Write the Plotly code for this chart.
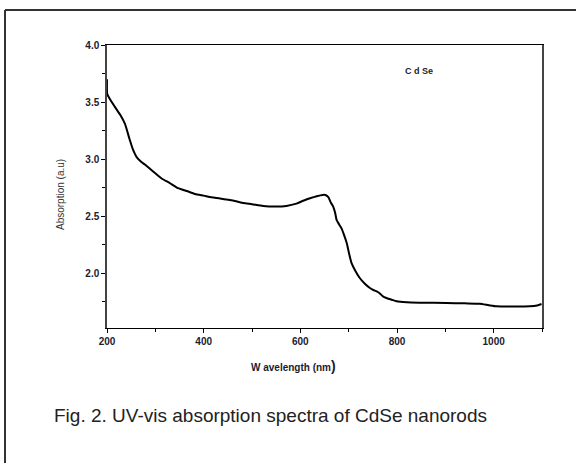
import plotly.graph_objects as go

wavelength = [200, 200.5, 204, 216, 227, 237, 247, 254, 261, 270, 279, 296, 313, 330, 347, 365, 382, 400, 416, 434,
              451, 467, 482, 500, 523, 550, 571, 592, 606, 620, 634, 646, 652, 658, 663, 668, 672, 675, 680,
              685, 690, 696, 701, 706, 714, 723, 733, 744, 751, 758, 764, 771, 778, 789, 799, 820, 850,
              902, 940, 971, 990, 1006, 1040, 1075, 1090, 1099]
absorbance = [3.70, 3.57, 3.54, 3.46, 3.39, 3.31, 3.17, 3.08, 3.02, 2.98, 2.95, 2.89, 2.83, 2.79, 2.745, 2.72, 2.695, 2.68, 2.666, 2.655,
              2.643, 2.63, 2.615, 2.605, 2.59, 2.585, 2.59, 2.61, 2.635, 2.657, 2.675, 2.686, 2.685, 2.666, 2.62, 2.584, 2.53, 2.468, 2.43,
              2.395, 2.34, 2.264, 2.17, 2.089, 2.02, 1.958, 1.91, 1.87, 1.853, 1.841, 1.825, 1.797, 1.783, 1.768, 1.754, 1.745, 1.742,
              1.739, 1.736, 1.733, 1.72, 1.71, 1.708, 1.71, 1.718, 1.73]

x_ticks = [200, 400, 600, 800, 1000]
y_ticks = [2.0, 2.5, 3.0, 3.5, 4.0]

fig = go.Figure()
fig.add_trace(go.Scatter(x=wavelength, y=absorbance, mode="lines",
                         line=dict(color="black", width=2, shape="spline", smoothing=0.6),
                         showlegend=False))

tick_font = dict(family="Liberation Sans, Arial", size=10, color="#1c1c2e", weight="bold")

fig.update_xaxes(range=[200, 1100], tickvals=x_ticks, ticktext=[str(v) for v in x_ticks],
                 ticks="outside", ticklen=4, tickcolor="black", tickwidth=1,
                 minor=dict(tickvals=[300, 500, 700, 900, 1100], ticks="outside", ticklen=3, tickcolor="black"),
                 showline=True, linecolor="black", linewidth=1, mirror=True,
                 showgrid=False, zeroline=False, tickfont=tick_font)
fig.update_yaxes(range=[1.52, 4.0], tickvals=y_ticks, ticktext=["%.1f" % v for v in y_ticks],
                 ticks="outside", ticklen=4, tickcolor="black", tickwidth=1,
                 minor=dict(tickvals=[1.75, 2.25, 2.75, 3.25, 3.75], ticks="outside", ticklen=3, tickcolor="black"),
                 showline=True, linecolor="#444", linewidth=1.5, mirror=True,
                 showgrid=False, zeroline=False, tickfont=tick_font)

W, H = 435.0, 283.0
L, T = 107.0, 45.0
def px(xp):
    return (xp - L) / W
def py(yp):
    return (T + H - yp) / H

fig.add_shape(type="line", xref="paper", yref="paper", x0=px(5), x1=px(580), y0=py(10), y1=py(10),
              line=dict(color="#333", width=2))
fig.add_shape(type="line", xref="paper", yref="paper", x0=px(5), x1=px(5), y0=py(10), y1=py(470),
              line=dict(color="#333", width=2))

def note(x, y, text, font, angle=0):
    fig.add_annotation(x=px(x), y=py(y), xref="paper", yref="paper", text=text, showarrow=False,
                       xanchor="center", yanchor="middle", textangle=angle, font=font)

note(419, 71, "C d Se", dict(family="Liberation Sans, Arial", size=9, color="#1c1c2e", weight="bold"))
note(293, 366, "W avelength (nm<span style='font-size:14px'>)</span>",
     dict(family="Liberation Sans, Arial", size=10, color="#1c1c2e", weight="bold"))
note(60, 195, "Absorption (a.u)", dict(family="Liberation Sans, Arial", size=10, color="#333"), angle=-90)
note(270, 415, "Fig. 2. UV-vis absorption spectra of CdSe nanorods",
     dict(family="Liberation Sans, Arial", size=19, color="#222"))

fig.update_layout(width=576, height=463, margin=dict(l=107, r=34, t=45, b=135),
                  plot_bgcolor="white", paper_bgcolor="white")
fig.write_html("out.html")
